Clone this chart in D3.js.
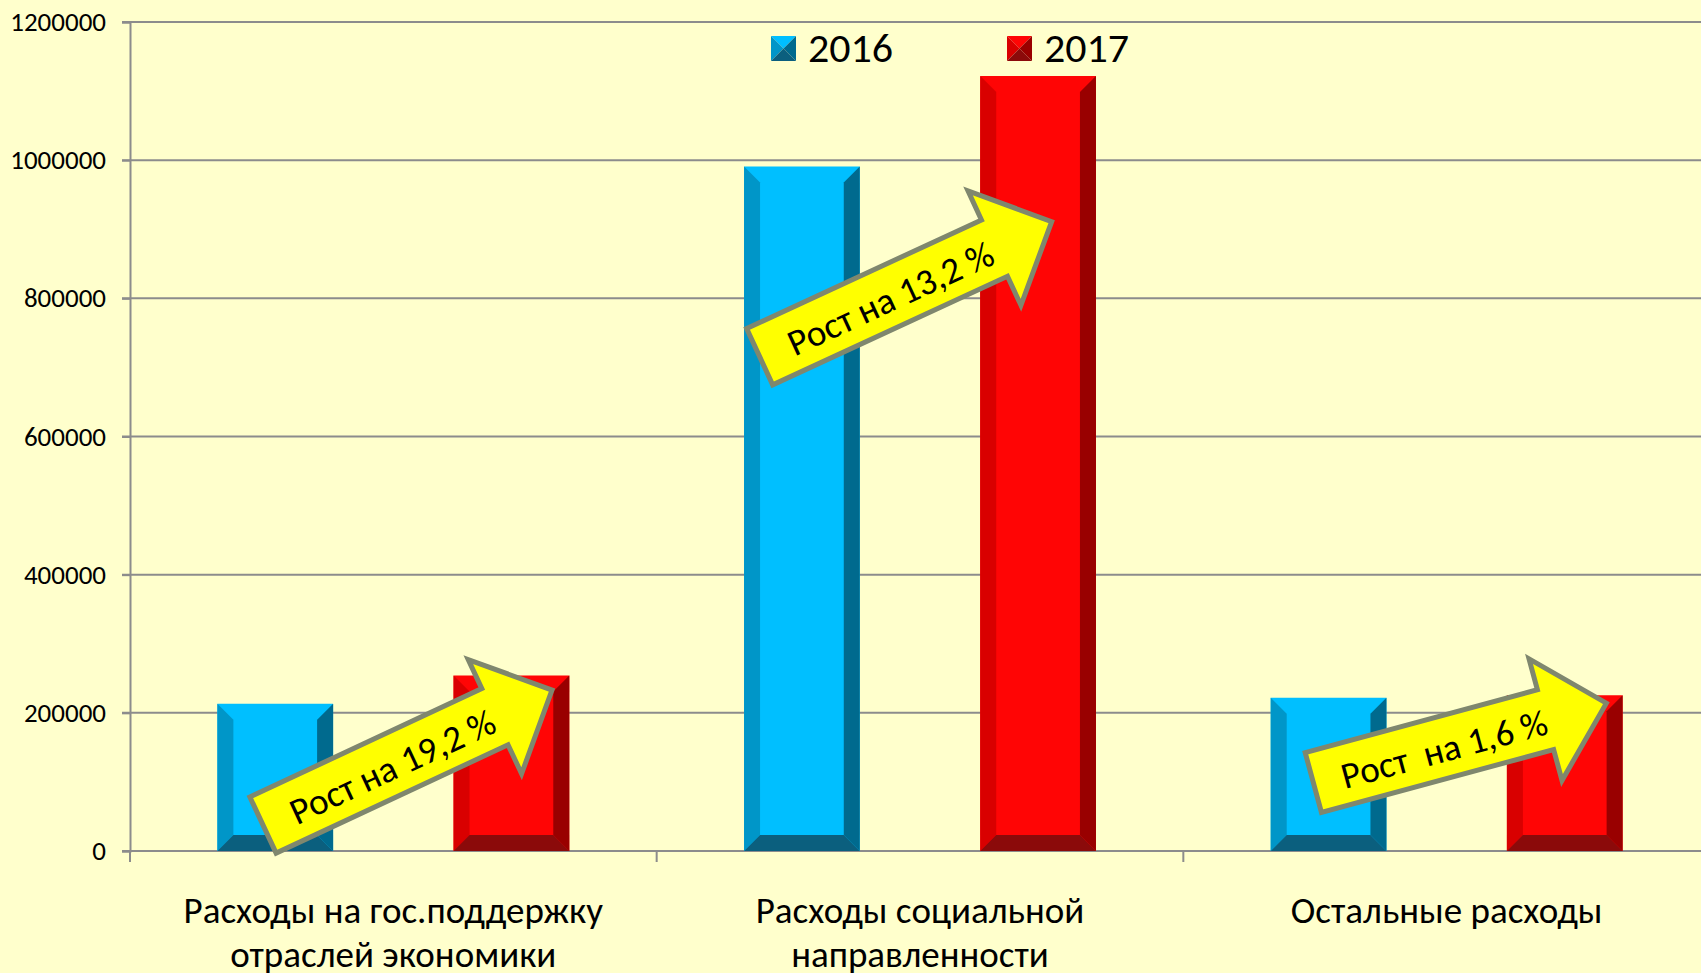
<!DOCTYPE html>
<html>
  <head>
    <meta charset="utf-8">
    <title>Расходы 2016-2017</title>
    <script src="https://cdn.jsdelivr.net/npm/d3@7"></script>
    <style type="text/css">
      html, body {
        margin: 0;
        padding: 0;
        background: #ffffcc;
      }
      svg {
        display: block;
        font-family: Carlito, Calibri, "Open Sans", sans-serif;
      }
      .grid line {
        stroke: #8c8c8c;
        stroke-width: 2;
      }
    </style>
  </head>
  <body>
    <svg id="screen" width="1701" height="973"></svg>

    <script type="text/javascript">

    // --- data ---
    var categories = [
      ['Расходы на гос.поддержку', 'отраслей экономики'],
      ['Расходы социальной', 'направленности'],
      ['Остальные расходы']
    ];
    var years = ['2016', '2017'];
    var values2016 = [213000, 991000, 222000];
    var values2017 = [254000, 1122000, 225500];
    var yTicks = [0, 200000, 400000, 600000, 800000, 1000000, 1200000];
    var growthLabels = ['Рост на 19,2 %', 'Рост на 13,2 %', 'Рост  на 1,6 %'];

    // arrow anchors: x offset inside the category band, y as a value
    var arrowTail = [[133, 37600], [103, 715500], [130, 99000]];
    var arrowTip  = [[422, 233000], [395, 911000], [423, 214000]];

    var colors = {
      '2016': { face: '#00bfff', left: '#0096c8', right: '#006a8e', bottom: '#0b5f7e' },
      '2017': { face: '#ff0505', left: '#d90000', right: '#990000', bottom: '#8b0a0a' }
    };

    var W = 1701, H = 973,
        plotL = 130, plotT = 22, plotB = 851, plotR = 1710;

    var svg = d3.select('#screen');

    svg.append('rect')
       .attr('width', W)
       .attr('height', H)
       .attr('fill', '#ffffcc');

    var keys = categories.map(function(d, i) { return i; });

    var x0 = d3.scaleBand().domain(keys).range([plotL, plotR]);
    var x1 = d3.scaleBand().domain(years).range([0, x0.bandwidth()])
               .paddingInner(0.51).paddingOuter(0.37);
    var y = d3.scaleLinear().domain([0, 1200000]).range([plotB, plotT]);

    // gridlines
    svg.append('g')
       .attr('class', 'grid')
       .selectAll('line')
       .data(yTicks)
       .enter()
       .append('line')
         .attr('x1', plotL - 8)
         .attr('x2', W)
         .attr('y1', function(d) { return y(d); })
         .attr('y2', function(d) { return y(d); });

    // y axis
    var yAxis = svg.append('g')
       .attr('transform', 'translate(' + plotL + ',0)')
       .call(d3.axisLeft(y).tickValues(yTicks).tickSize(8).tickPadding(16)
               .tickFormat(d3.format('d')));
    yAxis.select('.domain').attr('stroke', '#8c8c8c').attr('stroke-width', 2);
    yAxis.selectAll('.tick line').attr('stroke', '#8c8c8c').attr('stroke-width', 2);
    yAxis.selectAll('.tick text')
         .attr('font-size', 27)
         .attr('font-family', 'Carlito, Calibri, "Open Sans", sans-serif')
         .attr('fill', '#000');

    // category tick marks
    svg.append('g')
       .selectAll('line')
       .data(keys)
       .enter()
       .append('line')
         .attr('x1', function(d) { return x0(d); })
         .attr('x2', function(d) { return x0(d); })
         .attr('y1', plotB)
         .attr('y2', plotB + 11)
         .attr('stroke', '#8c8c8c')
         .attr('stroke-width', 2);

    // bars with bevel
    var bars = [];
    keys.forEach(function(k) {
      bars.push({ cat: k, year: '2016', value: values2016[k] });
      bars.push({ cat: k, year: '2017', value: values2017[k] });
    });

    var bev = 16;

    var barG = svg.append('g')
       .selectAll('g.bar')
       .data(bars)
       .enter()
       .append('g')
         .attr('class', 'bar');

    function bevelPaths(d) {
      var x = x0(d.cat) + x1(d.year), w = x1.bandwidth(),
          t = y(d.value), b = y(0), c = colors[d.year];
      var xi = x + bev, xr = x + w, xri = xr - bev, ti = t + bev, bi = b - bev;
      return [
        { fill: c.face, pts: [[x, t], [xr, t], [xr, b], [x, b]] },
        { fill: c.left, pts: [[x, t], [xi, ti], [xi, bi], [x, b]] },
        { fill: c.right, pts: [[xr, t], [xri, ti], [xri, bi], [xr, b]] },
        { fill: c.bottom, pts: [[x, b], [xi, bi], [xri, bi], [xr, b]] }
      ];
    }

    barG.selectAll('path')
        .data(bevelPaths)
        .enter()
        .append('path')
          .attr('d', function(p) { return 'M' + p.pts.join('L') + 'Z'; })
          .attr('fill', function(p) { return p.fill; });

    // legend
    var legendX = [771, 1007];
    var legend = svg.append('g')
       .selectAll('g')
       .data(years)
       .enter()
       .append('g')
         .attr('transform', function(d, i) { return 'translate(' + legendX[i] + ',36)'; });

    legend.each(function(d) {
      var g = d3.select(this), c = colors[d], s = 25, m = s / 2;
      [[c.face, [[0, 0], [s, 0], [m, m]]],
       [c.left, [[0, 0], [0, s], [m, m]]],
       [c.right, [[s, 0], [s, s], [m, m]]],
       [c.bottom, [[0, s], [s, s], [m, m]]]].forEach(function(t) {
        g.append('path').attr('d', 'M' + t[1].join('L') + 'Z').attr('fill', t[0]);
      });
      g.append('text')
       .attr('x', 37)
       .attr('y', 26)
       .attr('font-size', 42)
       .text(d);
    });

    // category labels
    svg.append('g')
       .selectAll('text')
       .data(categories)
       .enter()
       .append('text')
         .attr('text-anchor', 'middle')
         .attr('font-size', 37)
         .attr('x', function(d, i) { return x0(i) + x0.bandwidth() / 2; })
         .attr('y', 923)
         .selectAll('tspan')
         .data(function(d) { return d; })
         .enter()
         .append('tspan')
           .attr('x', function() { return d3.select(this.parentNode).attr('x'); })
           .attr('dy', function(d, i) { return i ? 44 : 0; })
           .text(function(d) { return d; });

    // growth arrows
    var shaft = 31, headW = 63, headL = 63;

    function arrowGeom(k) {
      var tx = x0(k) + arrowTail[k][0], ty = y(arrowTail[k][1]);
      var px = x0(k) + arrowTip[k][0], py = y(arrowTip[k][1]);
      return {
        tx: tx, ty: ty,
        len: Math.hypot(px - tx, py - ty),
        ang: Math.atan2(py - ty, px - tx) * 180 / Math.PI
      };
    }

    var arrows = svg.append('g')
       .selectAll('g')
       .data(keys)
       .enter()
       .append('g')
         .attr('transform', function(k) {
           var a = arrowGeom(k);
           return 'translate(' + a.tx + ',' + a.ty + ') rotate(' + a.ang + ')';
         });

    arrows.append('path')
       .attr('d', function(k) {
         var L = arrowGeom(k).len, hb = L - headL;
         return 'M0,' + (-shaft) + 'L' + hb + ',' + (-shaft) + 'L' + hb + ',' + (-headW) +
                'L' + L + ',0L' + hb + ',' + headW + 'L' + hb + ',' + shaft + 'L0,' + shaft + 'Z';
       })
       .attr('fill', '#ffff00')
       .attr('stroke', '#7f876e')
       .attr('stroke-width', 5)
       .attr('stroke-linejoin', 'miter');

    arrows.append('text')
       .attr('x', function(k) { return arrowGeom(k).len * 0.445; })
       .attr('y', 2)
       .attr('dominant-baseline', 'central')
       .attr('text-anchor', 'middle')
       .attr('font-size', 37)
       .style('white-space', 'pre')
       .text(function(k) { return growthLabels[k]; });

    </script>
  </body>
</html>
